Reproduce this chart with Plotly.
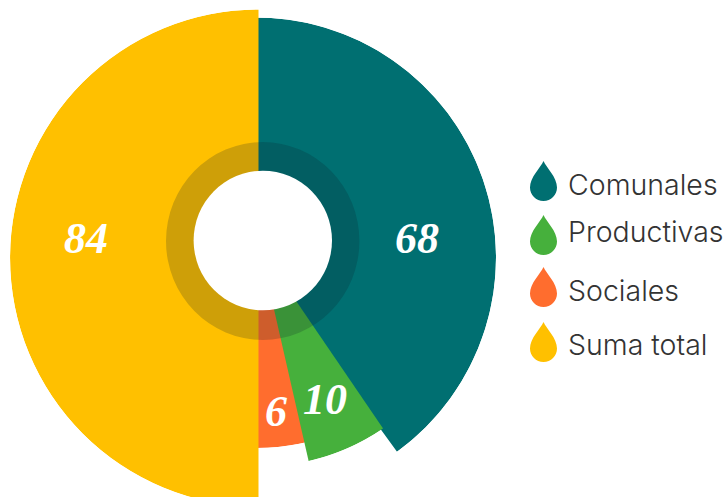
import plotly.graph_objects as go

categories = ["Comunales", "Productivas", "Sociales", "Suma total"]
values = [68, 10, 6, 84]
colors = ["#006F71", "#46B03C", "#FF6D2E", "#FFC000"]

W, H = 728, 510
# slice geometry in pixels: centre x, centre y, radius, rotation
geom = {
    "Comunales": (256, 257.5, 240, -1.7),
    "Productivas": (260, 248, 218.5, 0),
    "Sociales": (256, 225, 223, 0),
    "Suma total": (258.5, 258, 248.5, 0),
}
draw_order = ["Comunales", "Sociales", "Productivas", "Suma total"]
label_pos = {"Comunales": (417, 238), "Productivas": (325, 399), "Sociales": (276, 411), "Suma total": (86, 238)}
legend_y = {"Comunales": 161, "Productivas": 215, "Sociales": 267, "Suma total": 322}
legend_text_y = {"Comunales": 184, "Productivas": 232, "Sociales": 290, "Suma total": 344}

px = lambda x: x / W
py = lambda y: 1 - y / H

total = sum(values)
starts = {}
acc = 0
for c, v in zip(categories, values):
    starts[c] = acc
    acc += v

fig = go.Figure()
layout = {}
for i, c in enumerate(draw_order):
    k = categories.index(c)
    cx, cy, r, rot = geom[c]
    name = "polar" if i == 0 else f"polar{i+1}"
    sub = name
    start = starts[c] / total * 360
    width = values[k] / total * 360
    fig.add_trace(go.Barpolar(
        r=[r], theta=[start + width / 2], width=[width], subplot=sub,
        marker=dict(color=colors[k], line=dict(width=0)), showlegend=False, hoverinfo="skip", name=c))
    layout[name] = dict(
        domain=dict(x=[px(cx - r), px(cx + r)], y=[py(cy + r), py(cy - r)]),
        bgcolor="rgba(0,0,0,0)", barmode="overlay", bargap=0,
        radialaxis=dict(visible=False, range=[0, r]),
        angularaxis=dict(visible=False, direction="clockwise", rotation=90 - rot),
    )

shapes = []
def ellipse(cx, cy, rx, ry, color):
    return dict(type="circle", xref="paper", yref="paper", x0=px(cx - rx), x1=px(cx + rx),
                y0=py(cy + ry), y1=py(cy - ry), fillcolor=color, line=dict(width=0), layer="above")

shapes.append(ellipse(262.7, 241, 96.7, 99, "rgba(10,30,40,0.2)"))
shapes.append(ellipse(262.8, 240.5, 69.2, 69.8, "#FFFFFF"))

def drop(top, color):
    x = 543.5
    rr = 13.5
    cyc = top + 40 - rr
    P = lambda a, b: f"{px(a):.5f},{py(b):.5f}"
    path = (f"M{P(x, top)} "
            f"C{P(x + 3, top + 7)} {P(x + rr, top + 16)} {P(x + rr, cyc)} "
            f"C{P(x + rr, cyc + 7.5)} {P(x + 7.5, cyc + rr)} {P(x, cyc + rr)} "
            f"C{P(x - 7.5, cyc + rr)} {P(x - rr, cyc + 7.5)} {P(x - rr, cyc)} "
            f"C{P(x - rr, top + 16)} {P(x - 3, top + 7)} {P(x, top)} Z")
    return dict(type="path", xref="paper", yref="paper", path=path, fillcolor=color, line=dict(width=0), layer="above")

annotations = []
for c, v, col in zip(categories, values, colors):
    shapes.append(drop(legend_y[c], col))
    annotations.append(dict(text=c, xref="paper", yref="paper", x=px(565.5), y=py(legend_text_y[c]),
                            xanchor="left", yanchor="middle", showarrow=False,
                            font=dict(family="Inter", size=28.5, color="#333333", weight=300)))
    lx, ly = label_pos[c]
    annotations.append(dict(text=f"<b><i>{v}</i></b>", xref="paper", yref="paper", x=px(lx), y=py(ly),
                            xanchor="center", yanchor="middle", showarrow=False,
                            font=dict(family="Liberation Serif", size=44, color="#FFFFFF")))

fig.update_layout(width=W, height=H, margin=dict(l=0, r=0, t=0, b=0), paper_bgcolor="white",
                  showlegend=False, shapes=shapes, annotations=annotations, **layout)

fig.write_html("out.html", config={"displayModeBar": False},
               post_script="document.documentElement.style.overflow='hidden';document.body.style.overflow='hidden';document.body.style.margin='0';")
